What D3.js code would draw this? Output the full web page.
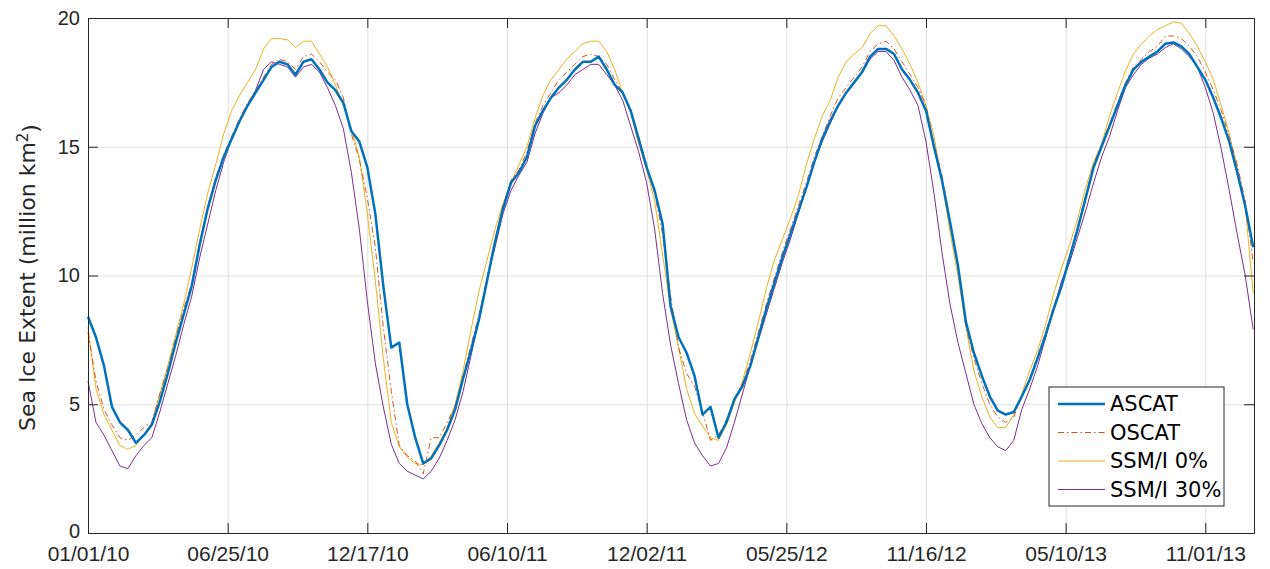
<!DOCTYPE html>
<html>
<head>
<meta charset="utf-8">
<script src="https://cdn.jsdelivr.net/npm/d3@7"></script>
<style>
  body { margin: 0; background: #fff; }
  svg { display: block; font-family: "DejaVu Sans", sans-serif; }
  .grid line { stroke: #dedede; stroke-width: 1; }
  .grid path { display: none; }
  .axis path, .axis line { stroke: #262626; }
  .axis text { fill: #262626; font-size: 21px; }
  .series { fill: none; }
</style>
</head>
<body>
<div id="chart"></div>
<script>
// day offsets from 01/01/10, every 10 days
var startDate = Date.UTC(2010, 0, 1);
var days = d3.range(0, 1461, 10);

var tickLabels = ["01/01/10", "06/25/10", "12/17/10", "06/10/11", "12/02/11",
                  "05/25/12", "11/16/12", "05/10/13", "11/01/13"];
var yTicks = [0, 5, 10, 15, 20];

var ascat = [
  8.4, 7.6, 6.5, 4.9, 4.3, 4.0, 3.5, 3.8, 4.2, 5.1,
  6.2, 7.4, 8.5, 9.6, 11.2, 12.6, 13.7, 14.6, 15.3, 16.0,
  16.6, 17.1, 17.6, 18.1, 18.3, 18.2, 17.8, 18.3, 18.4, 18.0,
  17.5, 17.2, 16.7, 15.6, 15.2, 14.2, 12.4, 9.6, 7.2, 7.4,
  5.0, 3.7, 2.7, 2.9, 3.4, 4.0, 4.8, 6.0, 7.1, 8.3,
  9.8, 11.3, 12.6, 13.6, 14.0, 14.6, 15.8, 16.4, 16.9, 17.3,
  17.6, 18.0, 18.3, 18.3, 18.5, 18.0, 17.4, 17.1, 16.4, 15.3,
  14.2, 13.3, 12.0, 8.8, 7.6, 7.0, 6.1, 4.6, 4.9, 3.7,
  4.3, 5.2, 5.7, 6.5, 7.6, 8.7, 9.7, 10.7, 11.6, 12.5,
  13.4, 14.4, 15.3, 16.0, 16.6, 17.1, 17.5, 17.9, 18.5, 18.8,
  18.8, 18.6, 18.0, 17.6, 17.1, 16.4, 15.0, 13.7, 12.1, 10.4,
  8.2, 7.0, 6.1, 5.3, 4.75, 4.6, 4.7, 5.3, 5.95, 6.8,
  7.7, 8.7, 9.6, 10.7, 11.8, 13.0, 14.2, 15.0, 15.8, 16.6,
  17.4, 18.0, 18.3, 18.5, 18.7, 19.0, 19.05, 18.9, 18.6, 18.1,
  17.6, 16.9, 16.1, 15.2, 14.0, 12.7, 11.1
];

var oscat = [
  7.8, 5.9, 4.8, 4.2, 3.7, 3.6, 3.8, 4.1, 4.3, 5.4,
  6.4, 7.6, 8.7, 9.7, 11.3, 12.7, 13.8, 14.7, 15.4, 16.1,
  16.7, 17.2, 17.7, 18.2, 18.4, 18.3, 18.0, 18.5, 18.6, 18.3,
  17.9, 17.6, 16.9, 15.5, 14.5, 13.0, 11.1, 8.0, 5.5, 3.4,
  3.0, 2.8, 2.3, 3.7, 3.7, 4.3, 4.9, 6.1, 7.3, 8.5,
  9.9, 11.4, 12.7, 13.7, 14.1, 14.8, 15.9, 16.6, 17.1, 17.6,
  17.9, 18.2, 18.5, 18.6, 18.5, 18.2, 17.6, 17.1, 16.4, 15.4,
  14.3, 13.2, 11.6, 9.2, 7.2, 6.2, 5.7, 4.7, 3.6, 3.8,
  4.4, 5.2, 5.8, 6.7, 7.8, 8.9, 9.9, 10.9, 11.8, 12.7,
  13.6, 14.6, 15.4, 16.2, 16.9, 17.3, 17.7, 18.1, 18.7, 19.0,
  19.1, 18.8, 18.3, 17.8, 17.3, 16.6, 15.1, 13.9, 12.2, 10.3,
  8.0, 6.8, 5.8, 5.0, 4.5, 4.3, 4.5, 5.3, 6.0, 6.9,
  7.8, 8.8, 9.7, 10.8, 11.9, 13.1, 14.3, 15.1, 15.9, 16.7,
  17.5, 18.1, 18.4, 18.7, 18.9, 19.3, 19.3, 19.2, 18.9, 18.5,
  17.9, 17.2, 16.4, 15.4, 14.3, 12.9, 10.5
];

var ssmi0 = [
  8.0, 5.6, 4.6, 4.0, 3.4, 3.25, 3.4, 3.8, 4.3, 5.4,
  6.5, 7.7, 8.9, 10.3, 11.8, 13.2, 14.3, 15.5, 16.4, 17.0,
  17.5, 18.0, 18.8, 19.2, 19.2, 19.15, 18.85, 19.1, 19.1, 18.6,
  18.1, 17.4, 16.6, 15.7, 14.6, 12.4, 9.8, 6.8, 4.3, 3.35,
  2.95, 2.7, 2.65, 3.0, 3.5, 4.1, 5.0, 6.3, 7.9, 9.4,
  10.6, 11.8, 12.8, 13.6, 14.3, 15.0, 16.1, 17.0, 17.6, 18.0,
  18.4, 18.7, 19.0, 19.1, 19.1, 18.7, 18.0, 17.1, 16.3, 15.1,
  14.1, 12.9, 10.8, 8.7, 7.2, 5.6, 4.65, 4.15, 3.7, 3.6,
  4.2, 5.05, 5.9, 7.0, 8.2, 9.5, 10.6, 11.4, 12.2, 13.1,
  14.3, 15.3, 16.2, 16.8, 17.7, 18.3, 18.6, 18.85, 19.4, 19.7,
  19.7, 19.3, 18.8, 18.2, 17.5, 16.6, 15.4, 13.7, 11.7, 10.0,
  8.0, 6.3, 5.3, 4.5, 4.1, 4.1, 4.6, 5.4, 6.3, 7.1,
  8.1, 9.3, 10.3, 11.2, 12.2, 13.4, 14.4, 15.1, 16.2, 17.1,
  17.95, 18.6, 19.0, 19.3, 19.55, 19.7, 19.85, 19.8, 19.4, 18.9,
  18.3, 17.6, 16.6, 15.5, 14.2, 12.7, 9.3
];

var ssmi30 = [
  5.9, 4.3, 3.8, 3.2, 2.6, 2.5, 3.0, 3.4, 3.7, 4.7,
  5.8, 6.9, 8.1, 9.2, 10.7, 12.0, 13.3, 14.4, 15.3, 16.0,
  16.6, 17.2, 18.0, 18.3, 18.2, 18.1, 17.7, 18.1, 18.2, 17.9,
  17.3, 16.6, 15.7, 14.0, 11.8, 9.0, 6.6, 4.9, 3.45, 2.7,
  2.4, 2.25, 2.1, 2.4, 2.9, 3.6, 4.4, 5.5, 6.9, 8.3,
  9.9, 11.1, 12.4, 13.3, 13.9, 14.4, 15.5, 16.3, 16.9, 17.1,
  17.4, 17.8, 18.0, 18.2, 18.2, 17.8, 17.4, 16.8, 15.8, 14.8,
  13.6, 11.8, 9.3, 7.3, 5.8, 4.4, 3.5, 3.0, 2.6, 2.7,
  3.3, 4.3, 5.4, 6.5, 7.5, 8.5, 9.5, 10.5, 11.4, 12.4,
  13.4, 14.4, 15.2, 15.9, 16.6, 17.1, 17.5, 17.9, 18.4, 18.7,
  18.7, 18.35, 17.7, 17.2, 16.6, 15.2, 13.2, 10.9, 8.9, 7.4,
  6.2, 5.0, 4.25, 3.7, 3.35, 3.2, 3.6, 4.8, 5.6, 6.5,
  7.6, 8.7, 9.8, 10.5, 11.5, 12.5, 13.6, 14.6, 15.4, 16.4,
  17.3, 17.8, 18.2, 18.45, 18.6, 18.85, 19.0, 18.8, 18.5, 18.1,
  17.3, 16.3, 14.9, 13.3, 11.6, 10.0, 7.9
];

var seriesNames = ["ASCAT", "OSCAT", "SSM/I 0%", "SSM/I 30%"];
var seriesValues = [ascat, oscat, ssmi0, ssmi30];
var seriesColors = ["#0072BD", "#D95319", "#EDB120", "#7E2F8E"];
var seriesWidths = [2.5, 1, 1, 1];
var seriesDash = [null, "6,3,1.5,3", null, null];

var margin = {top: 18, right: 16, bottom: 36, left: 88},
    width = 1270 - margin.left - margin.right,
    height = 569 - margin.top - margin.bottom;

var dayMs = 864e5;
var parseLabel = d3.utcParse("%m/%d/%y");

var x = d3.scaleUtc()
    .domain([new Date(startDate), new Date(startDate + 1461 * dayMs)])
    .range([0, width]);
var y = d3.scaleLinear().domain([0, 20]).range([height, 0]);

var svg = d3.select("#chart").append("svg")
    .attr("width", 1270)
    .attr("height", 569)
  .append("g")
    .attr("transform", "translate(" + margin.left + "," + margin.top + ")");

var tickDates = tickLabels.map(function(t) { return parseLabel(t); });

// grid
svg.append("g")
  .attr("class", "grid")
  .attr("transform", "translate(0," + height + ")")
  .call(d3.axisBottom(x).tickValues(tickDates).tickSize(-height).tickFormat(""));
svg.append("g")
  .attr("class", "grid")
  .call(d3.axisLeft(y).tickValues(yTicks).tickSize(-width).tickFormat(""));

// series
var line = d3.line()
    .defined(function(d) { return d.v != null; })
    .x(function(d) { return x(new Date(startDate + d.day * dayMs)); })
    .y(function(d) { return y(d.v); });

var order = [3, 2, 1, 0];
order.forEach(function(i) {
  var pts = days.map(function(day, j) { return {day: day, v: seriesValues[i][j]}; });
  svg.append("path")
    .datum(pts)
    .attr("class", "series")
    .attr("stroke", seriesColors[i])
    .attr("stroke-width", seriesWidths[i])
    .attr("stroke-dasharray", seriesDash[i])
    .attr("stroke-linejoin", "round")
    .attr("d", line);
});

// axes (ticks inside, box)
var fmt = function(d, i) { return tickLabels[i]; };
svg.append("g")
  .attr("class", "axis")
  .attr("transform", "translate(0," + height + ")")
  .call(d3.axisBottom(x).tickValues(tickDates).tickSizeInner(-10).tickSizeOuter(0)
        .tickPadding(13).tickFormat(fmt));
svg.append("g")
  .attr("class", "axis")
  .call(d3.axisTop(x).tickValues(tickDates).tickSizeInner(-10).tickSizeOuter(0).tickFormat(""));
var yAxis = svg.append("g")
  .attr("class", "axis")
  .call(d3.axisLeft(y).tickValues(yTicks).tickSizeInner(-10).tickSizeOuter(0).tickPadding(8));
yAxis.selectAll("text").style("font-size", "20px")
  .filter(function(d) { return d === 0; }).attr("dy", "0.2em");
svg.append("g")
  .attr("class", "axis")
  .attr("transform", "translate(" + width + ",0)")
  .call(d3.axisRight(y).tickValues(yTicks).tickSizeInner(-10).tickSizeOuter(0).tickFormat(""));

// y label
var yl = svg.append("text")
  .attr("transform", "translate(-53," + (height / 2 + 2) + ") rotate(-90)")
  .attr("text-anchor", "middle")
  .attr("fill", "#262626")
  .style("font-size", "22px");
yl.append("tspan").text("Sea Ice Extent (million km");
yl.append("tspan").attr("dy", "-0.45em").style("font-size", "15px").text("2");
yl.append("tspan").attr("dy", "0.45em").text(")");

// legend
var lg = svg.append("g")
  .attr("transform", "translate(" + (1049 - margin.left) + "," + (387 - margin.top) + ")");
lg.append("rect")
  .attr("width", 175).attr("height", 119)
  .attr("fill", "#fff").attr("stroke", "#262626").attr("stroke-width", 1);
seriesNames.forEach(function(name, i) {
  var ly = 17 + i * 28.5;
  lg.append("line")
    .attr("x1", 9).attr("x2", 56).attr("y1", ly).attr("y2", ly)
    .attr("stroke", seriesColors[i])
    .attr("stroke-width", seriesWidths[i])
    .attr("stroke-dasharray", seriesDash[i]);
  lg.append("text")
    .attr("x", 61).attr("y", ly).attr("dy", "0.35em")
    .attr("fill", "#000")
    .style("font-size", "21px")
    .text(name);
});
</script>
</body>
</html>
